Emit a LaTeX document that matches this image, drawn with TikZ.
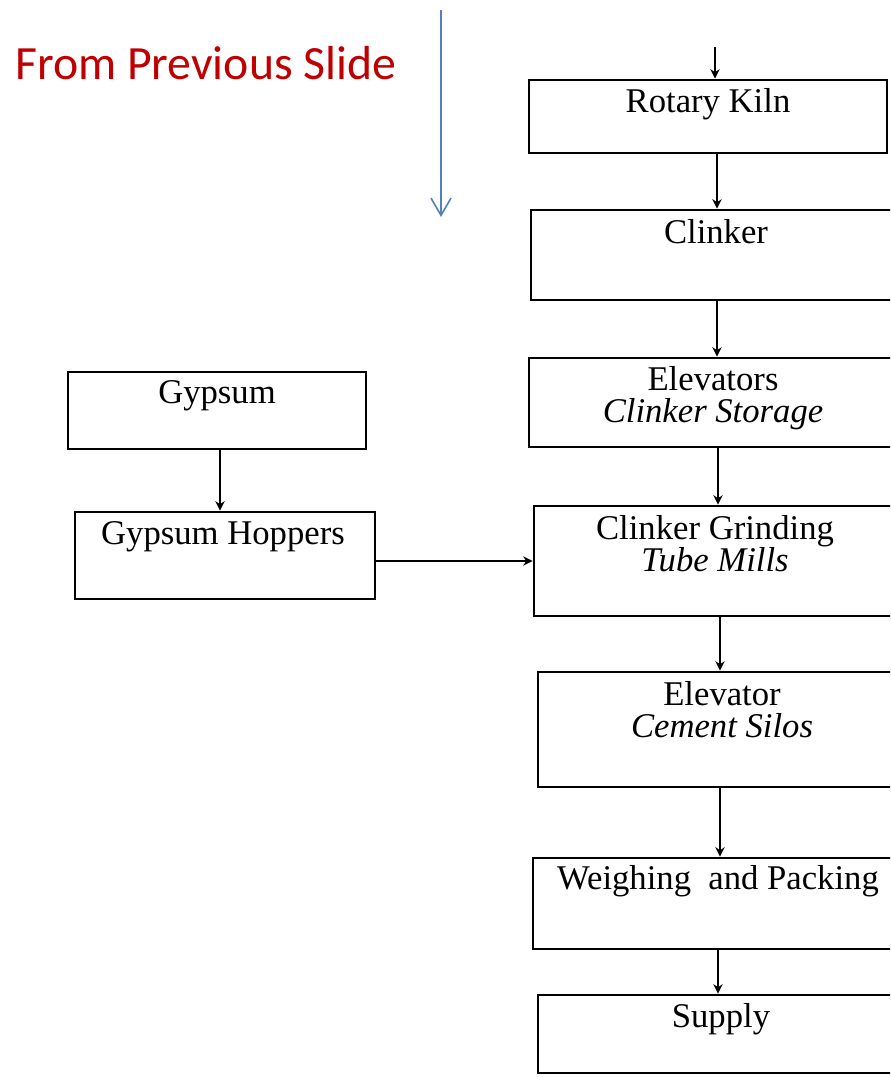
\documentclass[tikz,border=0pt]{standalone}
\usepackage{fontspec}
\setmainfont{Liberation Serif}
\newfontfamily\calib{Carlito}
\usetikzlibrary{arrows.meta,fit}
\definecolor{slidered}{HTML}{C00000}
\definecolor{slideblue}{HTML}{4F81BD}
\begin{document}
\begin{tikzpicture}[x=0.75pt,y=-0.75pt,
  procbox/.style={draw=black,line width=2.2pt,inner sep=0pt,rectangle},
  lbl/.style={anchor=base,inner sep=0pt,font=\fontsize{26}{24}\selectfont,align=center},
  flow/.style={draw=black,line width=1.6pt,-{Stealth[length=7pt,width=7pt]}},
  bluearr/.style={draw=slideblue,line width=1.2pt,-{Straight Barb[length=13pt,width=15pt,line width=1.2pt]}}]
\useasboundingbox (0,0) rectangle (890,1077);
\clip (0,0) rectangle (890,1077);
% right column boxes (they run off the right edge)
\node[procbox,fit={(529,80) (887,153)}] (kiln) {};
\node[procbox,fit={(531,210) (897,300)}] (clinker) {};
\node[procbox,fit={(529,358) (897,447)}] (elev) {};
\node[procbox,fit={(534,506) (897,616)}] (grind) {};
\node[procbox,fit={(538,672) (897,787)}] (silos) {};
\node[procbox,fit={(533,858) (897,949)}] (pack) {};
\node[procbox,fit={(538,995) (897,1073)}] (supply) {};
% left column boxes
\node[procbox,fit={(68,372) (366,449)}] (gyp) {};
\node[procbox,fit={(75,512) (375,599)}] (hop) {};
% labels
\node[lbl] (tkiln) at (708,113) {Rotary Kiln};
\node[lbl] (tclinker) at (716,243) {Clinker};
\node[lbl] (telev) at (713,422) {Elevators\\\itshape Clinker Storage};
\node[lbl] (tgrind) at (715,571) {Clinker Grinding\\\itshape Tube Mills};
\node[lbl] (tsilos) at (722,737) {Elevator\\\itshape Cement Silos};
\node[lbl] (tpack) at (718,889) {Weighing\ \ and Packing};
\node[lbl] (tsupply) at (721,1027) {Supply};
\node[lbl] (tgyp) at (217,403) {Gypsum};
\node[lbl] (thop) at (223,544) {Gypsum Hoppers};
% slide annotation
\node[anchor=base west,inner sep=0pt,text=slidered,font=\calib\fontsize{35.8}{40}\selectfont] (prev) at (15,80) {From Previous Slide};
\coordinate (bstart) at (441,10);
\coordinate (bend) at (441,217);
\draw[bluearr] (bstart) -- (bend);
% connector x positions
\coordinate (in0) at (715,47);
\coordinate (x1) at (717,0);
\coordinate (x2) at (717,0);
\coordinate (x3) at (718,0);
\coordinate (x4) at (720,0);
\coordinate (x5) at (720,0);
\coordinate (x6) at (718,0);
\coordinate (xg) at (220,0);
\coordinate (yh) at (0,561);
\draw[flow] (in0) -- (in0 |- kiln.north);
\draw[flow] (kiln.south -| x1) -- (clinker.north -| x1);
\draw[flow] (clinker.south -| x2) -- (elev.north -| x2);
\draw[flow] (elev.south -| x3) -- (grind.north -| x3);
\draw[flow] (grind.south -| x4) -- (silos.north -| x4);
\draw[flow] (silos.south -| x5) -- (pack.north -| x5);
\draw[flow] (pack.south -| x6) -- (supply.north -| x6);
\draw[flow] (gyp.south -| xg) -- (hop.north -| xg);
\draw[flow] (hop.east |- yh) -- (grind.west |- yh);
\end{tikzpicture}
\end{document}
